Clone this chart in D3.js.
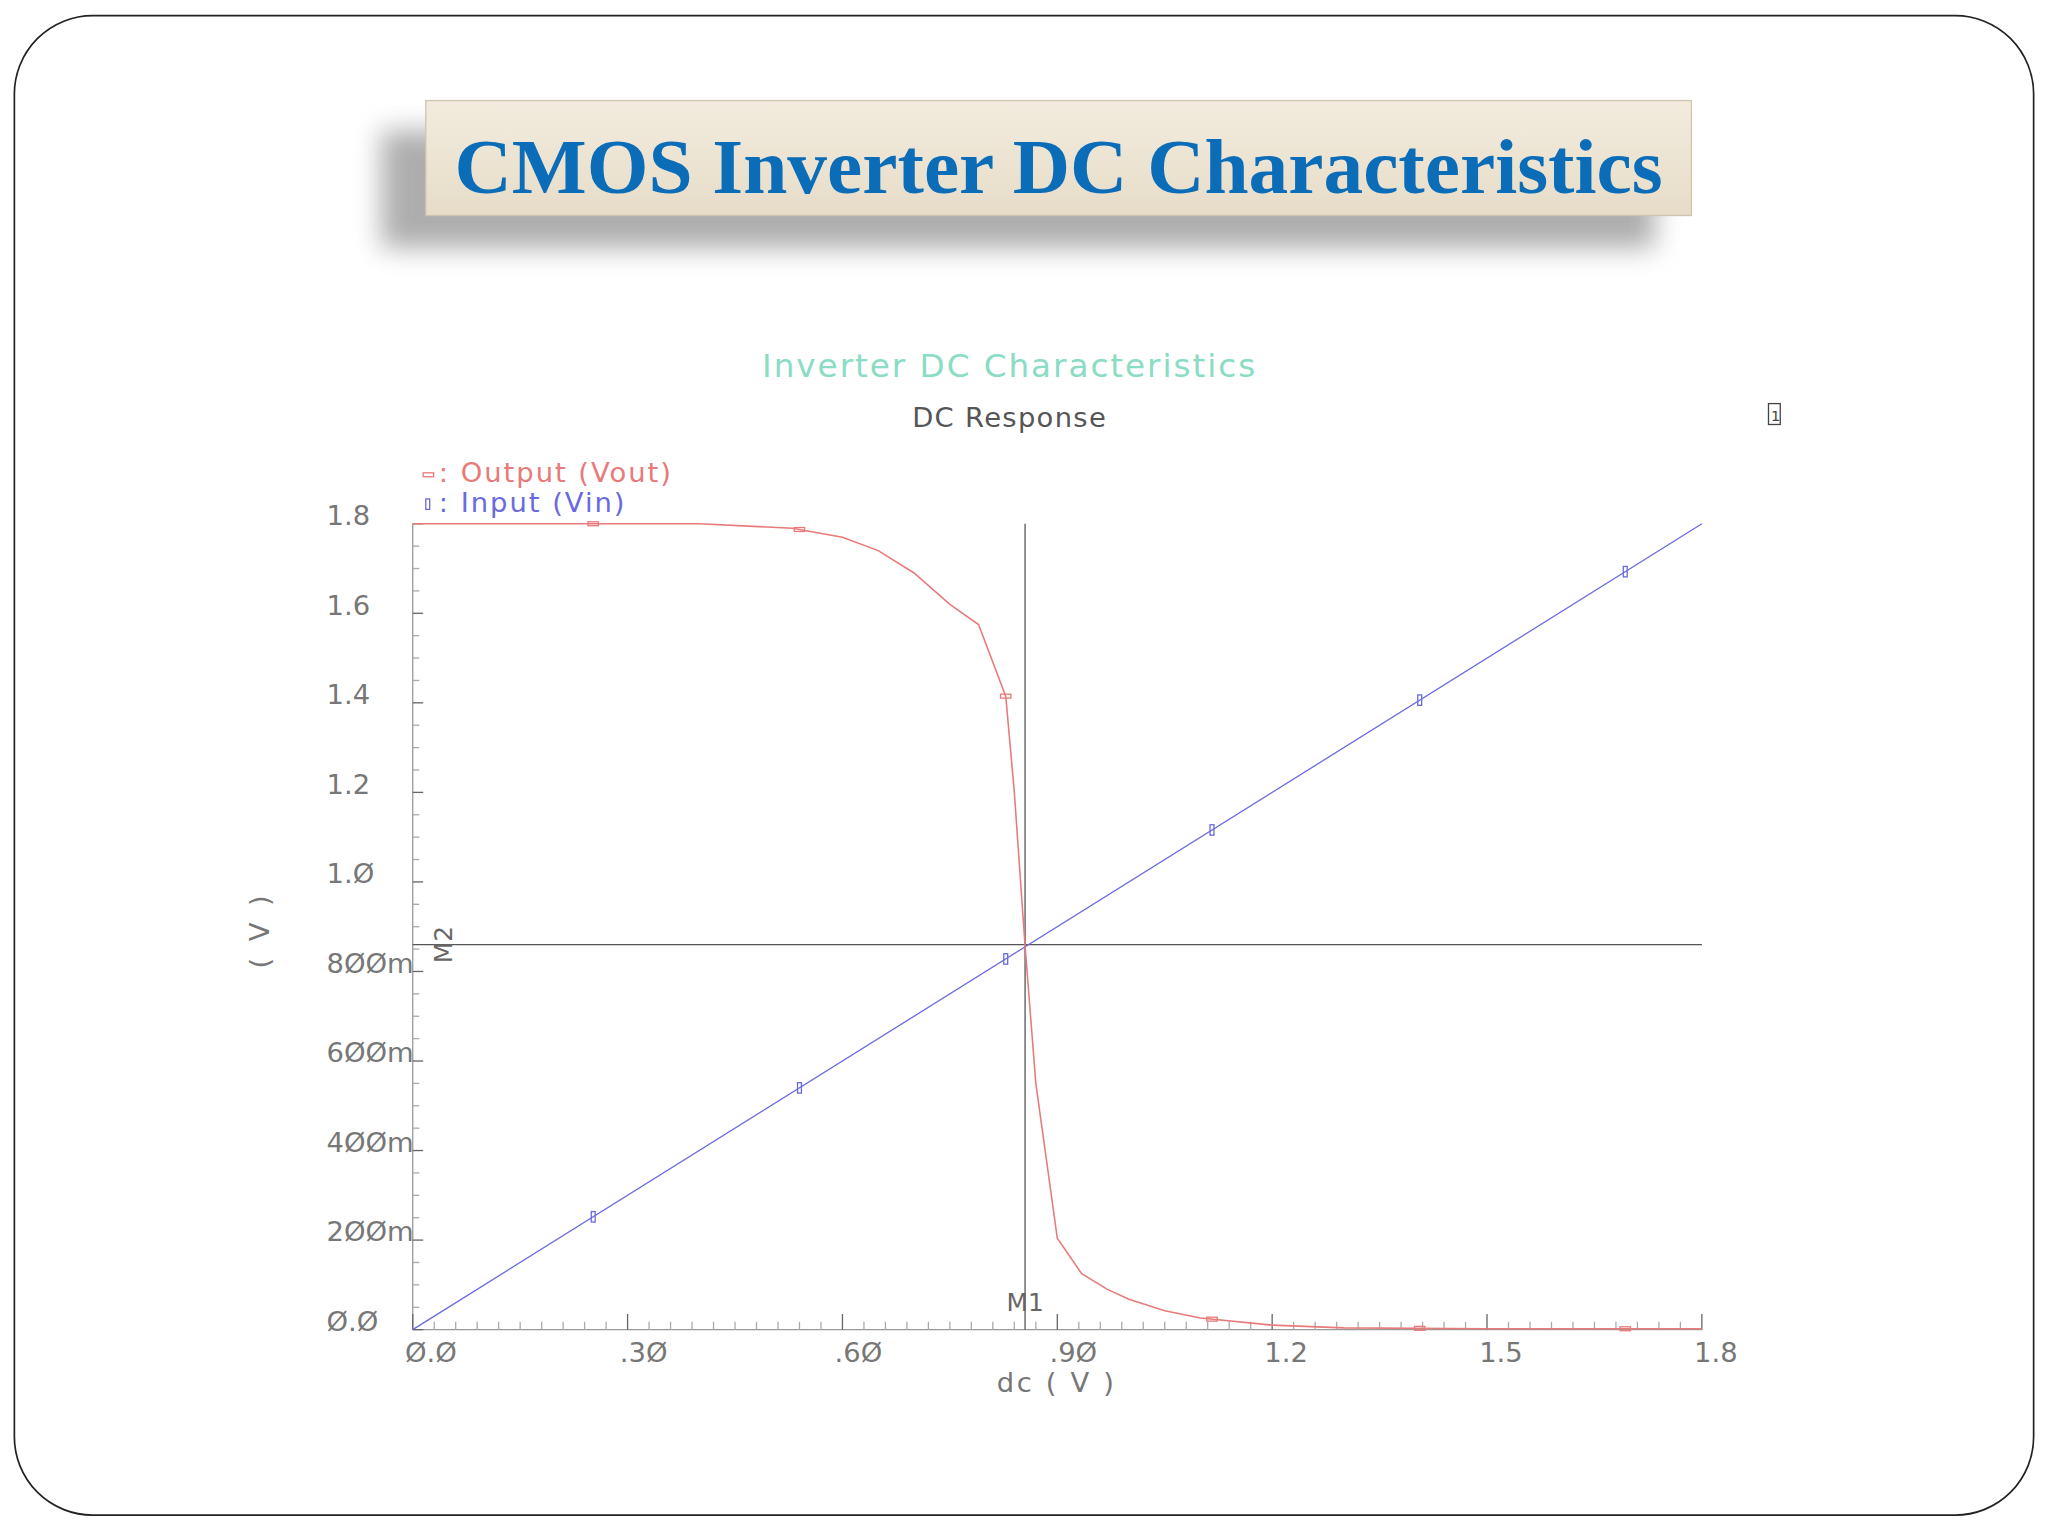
<!DOCTYPE html>
<html><head><meta charset="utf-8">
<script src="https://cdn.jsdelivr.net/npm/d3@7/dist/d3.min.js"></script>
<style>body{margin:0;background:#fff}svg{display:block}</style>
</head><body>
<svg id="c" width="2048" height="1536" viewBox="0 0 1568 1176"></svg>
<script>
const vinX = [0, 1.8];
const voutX = [0,0.25,0.4,0.53,0.6,0.65,0.7,0.75,0.79,0.828,0.84,0.855,0.87,0.9,0.934,0.97,1.0,1.05,1.1,1.2,1.3,1.5,1.8];
const voutY = [1.8,1.8,1.8,1.79,1.77,1.74,1.69,1.62,1.575,1.415,1.2,0.857,0.55,0.204,0.125,0.09,0.068,0.042,0.026,0.01,0.004,0.002,0.002];
const markX = [0.252,0.54,0.828,1.116,1.406,1.693];
const xTicks = [0,0.3,0.6,0.9,1.2,1.5,1.8];
const xTickLabels = ["Ø.Ø",".3Ø",".6Ø",".9Ø","1.2","1.5","1.8"];
const yTicks = [0,0.2,0.4,0.6,0.8,1.0,1.2,1.4,1.6,1.8];
const yTickLabels = ["Ø.Ø","2ØØm","4ØØm","6ØØm","8ØØm","1.Ø","1.2","1.4","1.6","1.8"];
const cursorX = 0.855, cursorY = 0.86;

const svg = d3.select("#c");
const defs = svg.append("defs");
const f = defs.append("filter").attr("id","sh").attr("x","-20%").attr("y","-50%").attr("width","140%").attr("height","250%");
f.append("feGaussianBlur").attr("stdDeviation",10);
const lg = defs.append("linearGradient").attr("id","bg").attr("x1",0).attr("y1",0).attr("x2",0).attr("y2",1);
lg.append("stop").attr("offset",0).attr("stop-color","#f3ecde");
lg.append("stop").attr("offset",1).attr("stop-color","#e6dcc8");

svg.append("rect").attr("x",11).attr("y",12).attr("width",1546).attr("height",1148).attr("rx",60)
  .attr("fill","#fff").attr("stroke","#222").attr("stroke-width",1.3);
svg.append("rect").attr("x",292).attr("y",100).attr("width",975).attr("height",90).attr("fill","#777").attr("opacity",0.6).attr("filter","url(#sh)");
svg.append("rect").attr("x",326).attr("y",77).attr("width",969).attr("height",88).attr("fill","url(#bg)").attr("stroke","#cfc4ad");
svg.append("text").attr("x",348).attr("y",148)
  .attr("font-family","Liberation Serif").attr("font-weight","bold").attr("font-size",60).attr("fill","#0b6cb8")
  .attr("textLength",925).attr("lengthAdjust","spacingAndGlyphs")
  .text("CMOS Inverter DC Characteristics");

const font = "DejaVu Sans";
const x = d3.scaleLinear().domain([0,1.8]).range([316,1303]);
const y = d3.scaleLinear().domain([0,1.8]).range([1018,401]);
const g = svg.append("g").attr("font-family",font);

g.append("text").attr("x",773).attr("y",289).attr("text-anchor","middle").attr("font-size",25).attr("fill","#8adcc4").attr("letter-spacing",1.5).text("Inverter DC Characteristics");
g.append("text").attr("x",773).attr("y",327).attr("text-anchor","middle").attr("font-size",21).attr("fill","#555").attr("letter-spacing",1).text("DC Response");
g.append("rect").attr("x",1354).attr("y",309).attr("width",9).attr("height",16).attr("fill","none").attr("stroke","#444");
g.append("text").attr("x",1356).attr("y",322).attr("font-size",11).attr("fill","#444").text("1");

const ax = g.append("g").attr("stroke","#999").attr("stroke-width",1).attr("fill","none");
ax.append("line").attr("x1",x(0)).attr("x2",x(1.8)).attr("y1",y(0)).attr("y2",y(0));
ax.append("line").attr("x1",x(0)).attr("x2",x(0)).attr("y1",y(0)).attr("y2",y(1.8));
d3.range(0,61).forEach(i=>{const v=i*0.03;const major=i%10===0;
  ax.append("line").attr("x1",x(v)).attr("x2",x(v)).attr("y1",y(0)).attr("y2",y(0)-(major?12:6)).attr("stroke",major?"#666":"#aaa");});
d3.range(0,37).forEach(i=>{const v=i*0.05;const major=i%4===0;
  ax.append("line").attr("y1",y(v)).attr("y2",y(v)).attr("x1",x(0)).attr("x2",x(0)+(major?8:5)).attr("stroke",major?"#666":"#aaa");});
xTicks.forEach((t,i)=>g.append("text").attr("x",x(t)-6).attr("y",1043).attr("font-size",21).attr("fill","#777").text(xTickLabels[i]));
yTicks.forEach((t,i)=>g.append("text").attr("x",250).attr("y",y(t)+1).attr("font-size",21).attr("fill","#777").text(yTickLabels[i]));
g.append("text").attr("x",809).attr("y",1066).attr("text-anchor","middle").attr("font-size",21).attr("fill","#777").attr("letter-spacing",2).text("dc ( V )");
g.append("text").attr("transform","translate(206,712) rotate(-90)").attr("text-anchor","middle").attr("font-size",21).attr("fill","#777").attr("letter-spacing",3).text("( V )");

g.append("line").attr("x1",x(cursorX)).attr("x2",x(cursorX)).attr("y1",y(0)).attr("y2",y(1.8)).attr("stroke","#555");
g.append("line").attr("x1",x(0)).attr("x2",x(1.8)).attr("y1",y(cursorY)).attr("y2",y(cursorY)).attr("stroke","#555");
g.append("text").attr("x",x(cursorX)).attr("y",1004).attr("text-anchor","middle").attr("font-size",19).attr("fill","#666").text("M1");
g.append("text").attr("transform",`translate(346,${y(cursorY)}) rotate(-90)`).attr("font-size",19).attr("fill","#666").attr("text-anchor","middle").text("M2");

const line = d3.line().x(d=>x(d[0])).y(d=>y(d[1]));
g.append("path").attr("d",line(vinX.map(v=>[v,v]))).attr("fill","none").attr("stroke","#6a6ae0").attr("stroke-width",1);
g.append("path").attr("d",line(voutX.map((v,i)=>[v,voutY[i]]))).attr("fill","none").attr("stroke","#e87a7a").attr("stroke-width",1.2);
const voutInterp = v=>{for(let i=1;i<voutX.length;i++){if(v<=voutX[i]){const t=(v-voutX[i-1])/(voutX[i]-voutX[i-1]);return voutY[i-1]+t*(voutY[i]-voutY[i-1]);}}return voutY[voutY.length-1];};
markX.forEach(v=>g.append("rect").attr("x",x(v)-4).attr("y",y(voutInterp(v))-1.5).attr("width",8).attr("height",3).attr("fill","none").attr("stroke","#e87a7a"));
markX.forEach(v=>g.append("rect").attr("x",x(v)-1.5).attr("y",y(v)-4).attr("width",3).attr("height",8).attr("fill","none").attr("stroke","#6a6ae0"));

g.append("rect").attr("x",324).attr("y",362).attr("width",8).attr("height",3).attr("fill","none").attr("stroke","#e87a7a");
g.append("text").attr("x",336).attr("y",369).attr("font-size",21).attr("fill","#e87a7a").attr("letter-spacing",1.5).text(": Output (Vout)");
g.append("rect").attr("x",326).attr("y",382).attr("width",3).attr("height",8).attr("fill","none").attr("stroke","#6a6ae0");
g.append("text").attr("x",336).attr("y",392).attr("font-size",21).attr("fill","#6a6ae0").attr("letter-spacing",1.5).text(": Input (Vin)");
</script>
</body></html>
